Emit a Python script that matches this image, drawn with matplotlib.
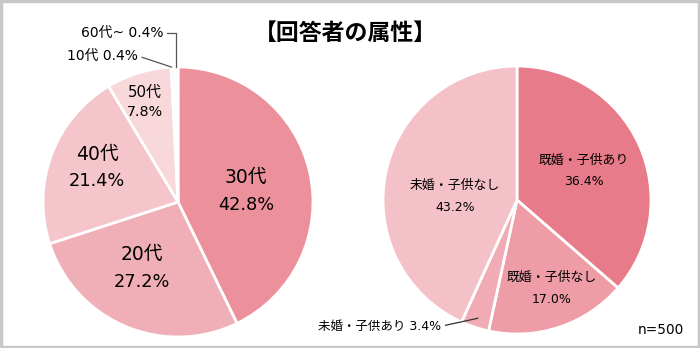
import numpy as np
import matplotlib
matplotlib.use("Agg")
import matplotlib.pyplot as plt
from matplotlib.patches import Rectangle

plt.rcParams['font.family'] = ['DejaVu Sans', 'Noto Sans CJK JP']

# age data (clockwise from 12 o'clock)
age_labels = ["30代", "20代", "40代", "50代", "10代", "60代~"]
age_values = [42.8, 27.2, 21.4, 7.8, 0.4, 0.4]
age_colors = ["#EC919C", "#F0AFB7", "#F5C5CC", "#F9D8DC", "#FBE3E6", "#FCEBED"]

# family data (clockwise from 12 o'clock)
fam_labels = ["既婚・子供あり", "既婚・子供なし", "未婚・子供あり", "未婚・子供なし"]
fam_values = [36.4, 17.0, 3.4, 43.2]
fam_colors = ["#E87B8A", "#EE9DA7", "#F0ABB4", "#F4C1C8"]

W, H = 700, 348
HALF = 140  # half size of each pie axes in px
fig = plt.figure(figsize=(7.0, 3.48), dpi=100)


def pie_axes(cx, cy):
    return fig.add_axes([(cx - HALF) / W, (H - cy - HALF) / H, 2 * HALF / W, 2 * HALF / H])


def fix_limits(ax):
    ax.set_xlim(-1, 1)
    ax.set_ylim(-1, 1)
    ax.set_aspect("equal")
    ax.axis("off")


def place(ax, R, dist, deg, name, pct, s1, s2, gap):
    # two-line label: name on top, percentage below; gap in px
    a = np.deg2rad(deg)
    x, y = R * dist * np.cos(a), R * dist * np.sin(a)
    g = gap / 2 / HALF
    ax.text(x, y + g, name, ha="center", va="center", fontsize=s1)
    ax.text(x, y - g, "{}%".format(pct), ha="center", va="center", fontsize=s2)


# left pie
R1 = 135 / HALF
ax1 = pie_axes(178, 202)
w1, _ = ax1.pie(age_values, colors=age_colors, startangle=90, counterclock=False,
                radius=R1, wedgeprops=dict(edgecolor="white", linewidth=2))
fix_limits(ax1)
place(ax1, R1, 0.51, 9, age_labels[0], age_values[0], 13.5, 12.8, 27)
place(ax1, R1, 0.557, -118.6, age_labels[1], age_values[1], 13.5, 12.8, 27)
place(ax1, R1, 0.65, 157.2, age_labels[2], age_values[2], 13.5, 12.8, 27)
place(ax1, R1, 0.78, 108.3, age_labels[3], age_values[3], 10.8, 10.3, 19)

# small slices with leader lines
a60 = np.deg2rad((w1[5].theta1 + w1[5].theta2) / 2)
a10 = np.deg2rad((w1[4].theta1 + w1[4].theta2) / 2)
x60, y60 = R1 * np.cos(a60), R1 * np.sin(a60)
x10, y10 = R1 * np.cos(a10), R1 * np.sin(a10)
ax1.plot([x60, x60, x60 - 0.07], [y60, 1.21, 1.21], color="#555555", lw=0.9, clip_on=False)
ax1.plot([x10 - 0.01, x10 - 0.22], [y10, y10 + 0.07], color="#555555", lw=0.9, clip_on=False)
ax1.text(x60 - 0.09, 1.21, "{} {}%".format(age_labels[5], age_values[5]),
         ha="right", va="center", fontsize=10)
ax1.text(x10 - 0.25, y10 + 0.08, "{} {}%".format(age_labels[4], age_values[4]),
         ha="right", va="center", fontsize=10)

# right pie
R2 = 134 / HALF
ax2 = pie_axes(517, 200)
w2, _ = ax2.pie(fam_values, colors=fam_colors, startangle=90, counterclock=False,
                radius=R2, wedgeprops=dict(edgecolor="white", linewidth=2))
fix_limits(ax2)
place(ax2, R2, 0.545, 23.4, fam_labels[0], fam_values[0], 9.3, 9, 22)
place(ax2, R2, 0.707, -68.3, fam_labels[1], fam_values[1], 9.3, 9, 22)
place(ax2, R2, 0.463, 177, fam_labels[3], fam_values[3], 9.3, 9, 22)

a34 = np.deg2rad((w2[2].theta1 + w2[2].theta2) / 2)
x34, y34 = R2 * 0.93 * np.cos(a34), R2 * 0.93 * np.sin(a34)
ax2.plot([x34, x34 - 0.23], [y34, y34 - 0.05], color="#333333", lw=0.9, clip_on=False)
ax2.text(x34 - 0.26, y34 - 0.06, "{} {}%".format(fam_labels[2], fam_values[2]),
         ha="right", va="center", fontsize=9)

# title and sample size
fig.text(345 / W, 1 - 33 / H, "【回答者の属性】", ha="center", va="center",
         fontsize=16.5, fontweight="bold")
fig.text(684 / W, 1 - 330 / H, "n=500", ha="right", va="center", fontsize=9.8)

# gray frame
fig.patches.append(Rectangle((0.001, 0.002), 0.997, 0.995, transform=fig.transFigure,
                             fill=False, edgecolor="#C8C8C8", linewidth=2.5))

fig.savefig("out.png", dpi=100, facecolor="white")
